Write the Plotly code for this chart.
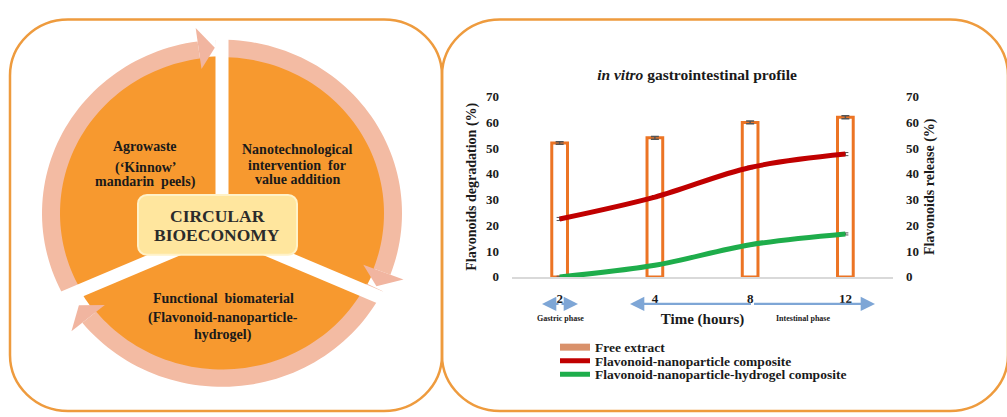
import math
import plotly.graph_objects as go

W, H = 1007, 417

# ---------------- data ----------------
time_labels = ["2", "4", "8", "12"]
free_extract = [52.0, 54.0, 60.0, 62.0]
free_extract_err = [0.5, 0.5, 0.5, 0.6]
np_composite = [22.5, 31.0, 42.5, 47.7]
np_composite_err = [0.6, 0.6, 0.5, 0.6]
hydrogel_composite = [0.0, 4.5, 12.5, 16.7]
hydrogel_err = [0.3, 0.4, 0.4, 0.4]
y_ticks = [0, 10, 20, 30, 40, 50, 60, 70]

series_names = ["Free extract", "Flavonoid-nanoparticle composite",
                "Flavonoid-nanoparticle-hydrogel composite"]

SERIF = "Liberation Serif, Times New Roman, serif"
TXT = "#1a1a1a"


def fx(x):
    return x / W


def fy(y):
    return 1 - y / H


def pt(x, y):
    return f"{x / W:.5f},{1 - y / H:.5f}"


def poly(points):
    return "M " + " L ".join(pt(x, y) for x, y in points) + " Z"


def rrect(x0, y0, x1, y1, r):
    k = 0.5523 * r
    return ("M " + pt(x0 + r, y0) + " L " + pt(x1 - r, y0) +
            " C " + pt(x1 - r + k, y0) + " " + pt(x1, y0 + r - k) + " " + pt(x1, y0 + r) +
            " L " + pt(x1, y1 - r) +
            " C " + pt(x1, y1 - r + k) + " " + pt(x1 - r + k, y1) + " " + pt(x1 - r, y1) +
            " L " + pt(x0 + r, y1) +
            " C " + pt(x0 + r - k, y1) + " " + pt(x0, y1 - r + k) + " " + pt(x0, y1 - r) +
            " L " + pt(x0, y0 + r) +
            " C " + pt(x0, y0 + r - k) + " " + pt(x0 + r - k, y0) + " " + pt(x0 + r, y0) + " Z")


# --------------- left diagram geometry ---------------
CX, CY = 222, 214
R_DISK = 163
R_IN, R_OUT = 162, 180
R_MID = (R_IN + R_OUT) / 2
HUB = (222, 232)


def polar(r, deg):
    a = math.radians(deg)
    return (CX + r * math.sin(a), CY - r * math.cos(a))


def band(a0, a1, r0, r1, n=60):
    outer = [polar(r1, a0 + (a1 - a0) * i / n) for i in range(n + 1)]
    inner = [polar(r0, a1 - (a1 - a0) * i / n) for i in range(n + 1)]
    return poly(outer + inner)


shapes = []
# panels
for x0, x1 in [(10, 442), (442, 1008)]:
    shapes.append(dict(type="path", xref="paper", yref="paper",
                       path=rrect(x0, 13, x1, 419, 58),
                       line=dict(color="#EE9B3E", width=2.5), fillcolor="rgba(0,0,0,0)"))

# orange disk
disk = [polar(R_DISK, i * 3) for i in range(120)]
shapes.append(dict(type="path", xref="paper", yref="paper", path=poly(disk),
                   line=dict(width=0), fillcolor="#F7992F"))

RING = "#F3BBA3"
gaps = [0.0, 118.7, 241.3]
arcs = [(241.3, 360.0, 2.4), (0.0, 118.7, 2.6), (118.7, 241.3, 5.0)]
for a0, a1, off in arcs:
    tip = a1 - off
    base = tip - 5.4
    shapes.append(dict(type="path", xref="paper", yref="paper",
                       path=band(a0 - 2, base, R_IN, R_OUT),
                       line=dict(width=0), fillcolor=RING))

# white gaps
for g in gaps:
    ex, ey = polar(186, g)
    shapes.append(dict(type="line", xref="paper", yref="paper",
                       x0=fx(HUB[0]), y0=fy(HUB[1]), x1=fx(ex), y1=fy(ey),
                       line=dict(color="white", width=13)))

# arrowheads
for a0, a1, off in arcs:
    tip = a1 - off
    base = tip - 5.4
    pts = [polar(151, base), polar(194, base), polar(R_MID + 1, tip)]
    shapes.append(dict(type="path", xref="paper", yref="paper", path=poly(pts),
                       line=dict(width=0), fillcolor="#F1B5A0"))

# central box
shapes.append(dict(type="path", xref="paper", yref="paper",
                   path=rrect(138, 195, 297, 257, 9),
                   line=dict(color="#FFF2C8", width=2), fillcolor="#FFE69E"))

annotations = []


def label(text, x, y, size=14, color=TXT, **kw):
    annotations.append(dict(text=text, x=fx(x), y=fy(y), xref="paper", yref="paper",
                            showarrow=False, xanchor="center", yanchor="middle",
                            font=dict(family=SERIF, size=size, color=color, weight="bold"), **kw))


label("Agrowaste", 145, 145)
label("(‘Kinnow’", 145, 167)
label("mandarin  peels)", 145, 182)
label("Nanotechnological", 297, 148)
label("intervention  for", 297, 164)
label("value addition", 297, 179)
label("CIRCULAR", 217, 217, size=17.5, color="#2b2b2b")
label("BIOECONOMY", 217, 237, size=17.5, color="#2b2b2b")
label("Functional  biomaterial", 223, 302)
label("(Flavonoid-nanoparticle-", 223, 323)
label("hydrogel)", 223, 340)

# phase labels
label("Gastric phase", 560, 323, size=8)
label("Intestinal phase", 803, 323, size=8)

# double headed arrows (blue)
ARROW = "#7EA6D6"
for xa, xb, yv in [(542, 578, 308), (630, 875, 308)]:
    mid = (xa + xb) / 2
    for head in (xa, xb):
        annotations.append(dict(text="", x=fx(head), y=fy(yv), xref="paper", yref="paper",
                                showarrow=True, ax=mid - head, ay=0, axref="pixel", ayref="pixel",
                                arrowhead=2, arrowsize=1.3, arrowwidth=2.2, arrowcolor=ARROW,
                                standoff=0, startstandoff=0))

# --------------- chart ---------------
fig = go.Figure()

fig.add_trace(go.Scatter(x=[None], y=[None], mode="lines", name=series_names[0],
                         line=dict(color="#D9916B", width=7), showlegend=True, legend="legend"))

fig.add_trace(go.Bar(x=time_labels, y=free_extract, width=0.165, name=series_names[0],
                     showlegend=False,
                     marker=dict(color="white", line=dict(color="#EC7424", width=3)),
                     error_y=dict(type="data", array=free_extract_err, color="#555555",
                                  thickness=1.5, width=4)))

fig.add_trace(go.Scatter(x=time_labels, y=np_composite, mode="lines", name=series_names[1],
                         yaxis="y2", legend="legend2",
                         line=dict(color="#C00000", width=5, shape="spline"),
                         error_y=dict(type="data", array=np_composite_err, color="#555555",
                                      thickness=1, width=3)))

fig.add_trace(go.Scatter(x=time_labels, y=hydrogel_composite, mode="lines", name=series_names[2],
                         yaxis="y2", legend="legend3",
                         line=dict(color="#1EAD4B", width=5, shape="spline"),
                         error_y=dict(type="data", array=hydrogel_err, color="#555555",
                                      thickness=1, width=3)))

tickfont = dict(family=SERIF, size=13, color=TXT, weight="bold")
x_dom = [fx(512), fx(893)]
y_dom = [fy(280), fy(93)]

legend_font = dict(family=SERIF, size=13.5, color=TXT, weight="bold")


def leg(top):
    return dict(x=fx(555), y=fy(top), xanchor="left", yanchor="top",
                bgcolor="rgba(0,0,0,0)", tracegroupgap=0, itemwidth=30, font=legend_font)


fig.update_layout(
    width=W, height=H,
    margin=dict(l=0, r=0, t=0, b=0),
    paper_bgcolor="white", plot_bgcolor="rgba(0,0,0,0)",
    title=dict(text="<i>in vitro</i> gastrointestinal profile", x=fx(697), y=fy(75),
               xanchor="center", yanchor="middle",
               font=dict(family=SERIF, size=15.5, color=TXT, weight="bold")),
    xaxis=dict(domain=x_dom, type="category", categoryorder="array", categoryarray=time_labels,
               range=[-0.5, 3.5], showgrid=False, zeroline=False,
               showline=True, linecolor="#D9D9D9", linewidth=2,
               ticks="", tickfont=tickfont, ticklabelstandoff=8,
               title=dict(text="Time (hours)", standoff=9,
                          font=dict(family=SERIF, size=15, color=TXT, weight="bold"))),
    yaxis=dict(domain=y_dom, range=[0, 70], tickvals=y_ticks, showgrid=False, zeroline=False,
               showline=False, ticks="", tickfont=tickfont, ticklabelstandoff=12,
               title=dict(text="Flavonoids degradation (%)", standoff=6,
                          font=dict(family=SERIF, size=14, color=TXT, weight="bold"))),
    yaxis2=dict(domain=y_dom, range=[0, 70], tickvals=y_ticks, overlaying="y", side="right",
                showgrid=False, zeroline=False, showline=False, ticks="", tickfont=tickfont,
                ticklabelstandoff=12,
                title=dict(text="Flavonoids release (%)", standoff=6,
                           font=dict(family=SERIF, size=14, color=TXT, weight="bold"))),
    legend=leg(337),
    legend2=leg(351),
    legend3=leg(365),
    showlegend=True,
    shapes=shapes,
    annotations=annotations,
)

fig.write_html("out.html", config={"displayModeBar": False},
               post_script="document.body.style.margin='0';document.body.style.overflow='hidden';")
